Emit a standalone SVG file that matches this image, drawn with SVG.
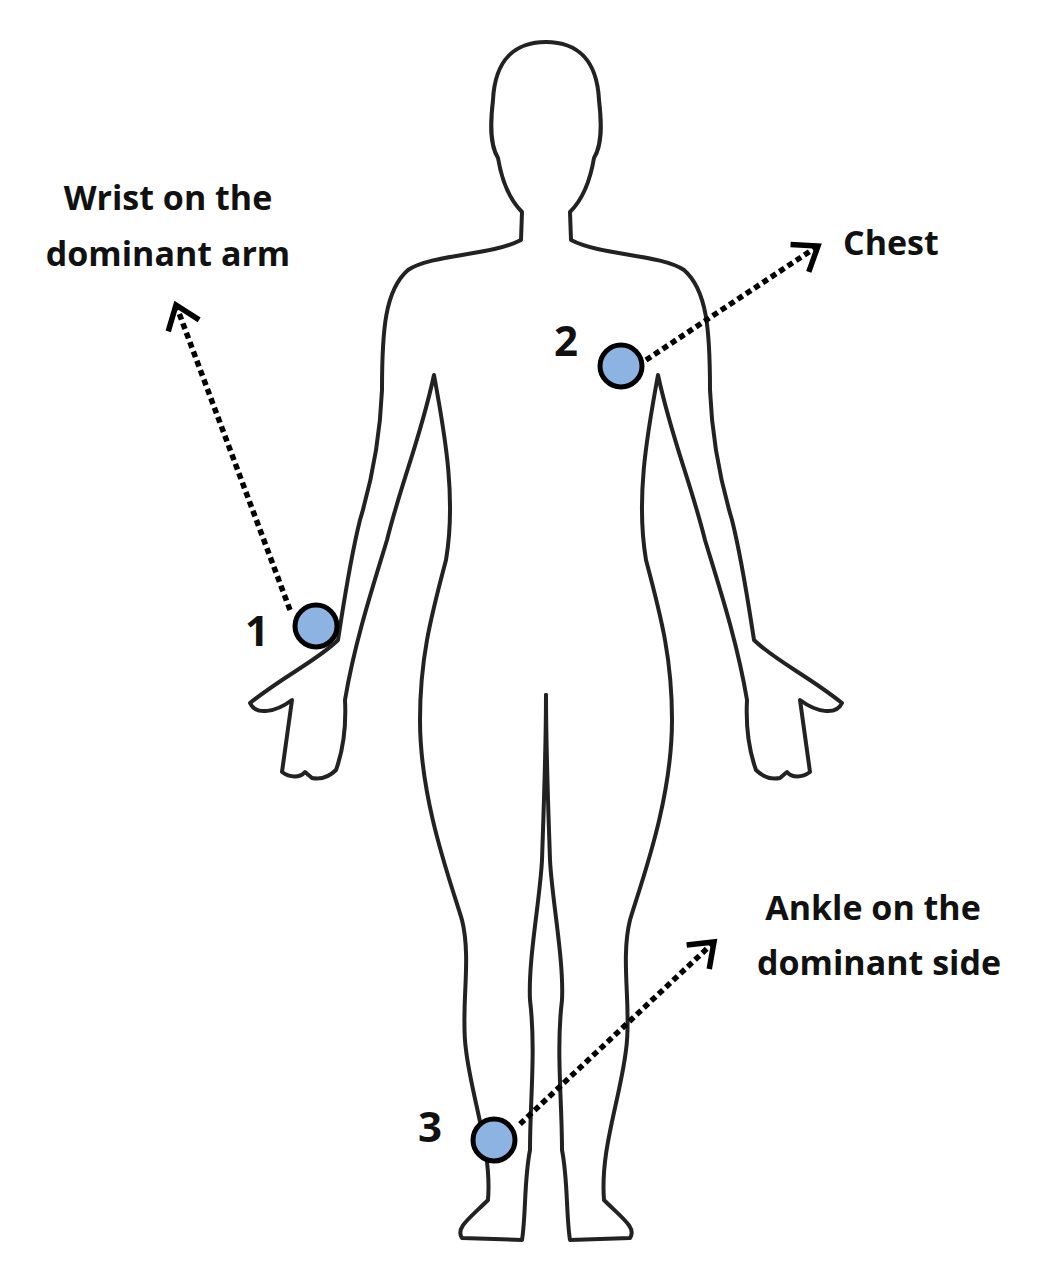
<svg xmlns="http://www.w3.org/2000/svg" width="1051" height="1268" viewBox="0 0 1051 1268">
<style>
.body{fill:none;stroke:#222;stroke-width:4;stroke-linejoin:round;stroke-linecap:round}
.lbl{font-family:"Open Sans","Liberation Sans",sans-serif;font-weight:bold;font-size:34px;fill:#111}
.num{font-family:"Open Sans","Liberation Sans",sans-serif;font-weight:bold;font-size:42px;fill:#111}
.dot{fill:#8DB3E2;stroke:#000;stroke-width:5}
.arr{fill:none;stroke:#000;stroke-width:5.5;stroke-dasharray:6,4}
</style>
<defs>
<marker id="ah" markerWidth="8" markerHeight="8" refX="5" refY="4" orient="auto" markerUnits="strokeWidth">
<path d="M1,1 L5,4 L1,7" fill="none" stroke="#000" stroke-width="1"/>
</marker>
<path id="half" d="M546,42 C515,42 495,60 493,100 C490,125 490,145 498,158 C502,182 510,200 522,212 L521,240 C490,256 432,254 408,270 C385,290 382,330 382,390 C380,440 372,480 360,520 C350,560 345,595 338,640 C318,660 285,675 250,703 C256,716 276,712 292,700 L282,772 C290,778 300,778 305,772 L312,778 C322,780 330,776 336,770 C345,745 346,720 345,700 C355,640 375,580 387,540 C402,480 420,440 434,375 C446,440 456,500 446,560 C430,620 420,660 420,720 C420,800 450,880 462,920 C472,960 460,1010 466,1050 C472,1100 492,1150 488,1200 C470,1218 455,1228 462,1238 L522,1240 C526,1215 524,1180 530,1150 C530,1100 536,1050 530,1000 C528,960 540,900 542,860 C544,800 546,750 546,695"/>
</defs>
<g id="body">
<use href="#half" class="body"/>
<use href="#half" class="body" transform="translate(1092,0) scale(-1,1)"/>
</g>
<g id="connectors">
<line class="arr" x1="290" y1="610" x2="176" y2="305" marker-end="url(#ah)"/>
<line class="arr" x1="646" y1="360" x2="818" y2="246" marker-end="url(#ah)"/>
<line class="arr" x1="520" y1="1124" x2="714" y2="942" marker-end="url(#ah)"/>
</g>
<g id="n1"><circle class="dot" cx="316" cy="626" r="21"/><text class="num" x="257" y="646" text-anchor="middle">1</text>
<text class="lbl" x="168" y="210" text-anchor="middle">Wrist on the</text><text class="lbl" x="168" y="266" text-anchor="middle">dominant arm</text></g>
<g id="n2"><circle class="dot" cx="621" cy="366" r="21"/><text class="num" x="566" y="356" text-anchor="middle">2</text>
<text class="lbl" x="843" y="255">Chest</text></g>
<g id="n3"><circle class="dot" cx="494" cy="1140" r="21"/><text class="num" x="430" y="1142" text-anchor="middle">3</text>
<text class="lbl" x="873" y="920" text-anchor="middle">Ankle on the</text><text class="lbl" x="879" y="975" text-anchor="middle">dominant side</text></g>
</svg>
